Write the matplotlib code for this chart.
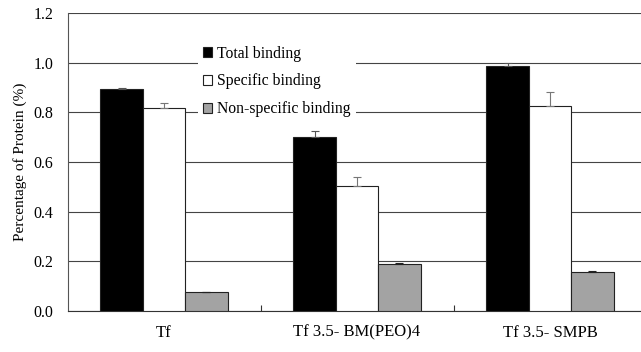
import matplotlib
matplotlib.use("Agg")
import matplotlib.pyplot as plt
import numpy as np

categories = ["Tf", "Tf 3.5- BM(PEO)4", "Tf 3.5- SMPB"]
series = ["Total binding", "Specific binding", "Non-specific binding"]
total = [0.893, 0.700, 0.985]
total_err = [0.005, 0.025, 0.015]
specific = [0.816, 0.503, 0.827]
specific_err = [0.020, 0.037, 0.056]
nonspecific = [0.075, 0.190, 0.157]
nonspecific_err = [0.003, 0.005, 0.005]
yticks = [0.0, 0.2, 0.4, 0.6, 0.8, 1.0, 1.2]

plt.rcParams['font.family'] = ['Liberation Serif', 'DejaVu Serif']

fig = plt.figure(figsize=(6.41, 3.52), dpi=100)
ax = fig.add_axes([67.5/641, 1-311/352, 1-67.5/641, (311-13)/352])

x = np.arange(len(categories))
w = 0.22
vals = [total, specific, nonspecific]
errs = [total_err, specific_err, nonspecific_err]
colors = ["black", "white", "#a3a3a3"]
ecols = ["#555555", "#777777", "#222222"]
for i, (v, e, c, ec) in enumerate(zip(vals, errs, colors, ecols)):
    ax.bar(x + (i - 1) * w, v, w, color=c, edgecolor="#222222", linewidth=0.8,
           label=series[i], zorder=3,
           yerr=[np.zeros(len(e)), e], error_kw=dict(ecolor=ec, capsize=3, elinewidth=0.8, capthick=0.8, zorder=4))

ax.set_xlim(-0.5, 2.5 - 5.5/193)
ax.set_ylim(0, 1.2)
ax.set_yticks(yticks)
ax.set_yticklabels([f"{t:.1f}" for t in yticks], fontsize=11.5)
ax.tick_params(axis='y', length=0, pad=10)
ax.set_xticks(x)
ax.set_xticklabels(categories, fontsize=12)
ax.tick_params(axis='x', length=0, pad=10)
ax.set_xticks([0.5, 1.5], minor=True)
ax.tick_params(axis='x', which='minor', direction='in', length=4, width=0.8, color="#333333")
ax.yaxis.grid(True, color="#444444", linewidth=0.8, zorder=0)
ax.set_axisbelow(True)
for s in ["top", "right"]:
    ax.spines[s].set_visible(False)
ax.spines["left"].set_color("#555555")
ax.spines["bottom"].set_color("#333333")
ax.set_ylabel("Percentage of Protein (%)", fontsize=11, labelpad=5)

leg = ax.legend(loc="upper left", bbox_to_anchor=(190/641, 1-33/352), bbox_transform=fig.transFigure,
                frameon=True, fontsize=11.3, handlelength=0.6, handleheight=0.6, handletextpad=0.35,
                labelspacing=0.75, borderpad=0.3, fancybox=False)
leg.get_frame().set_facecolor("white")
leg.get_frame().set_edgecolor("none")
leg.get_frame().set_alpha(1)
leg.set_zorder(5)

fig.savefig("out.png", dpi=100)
